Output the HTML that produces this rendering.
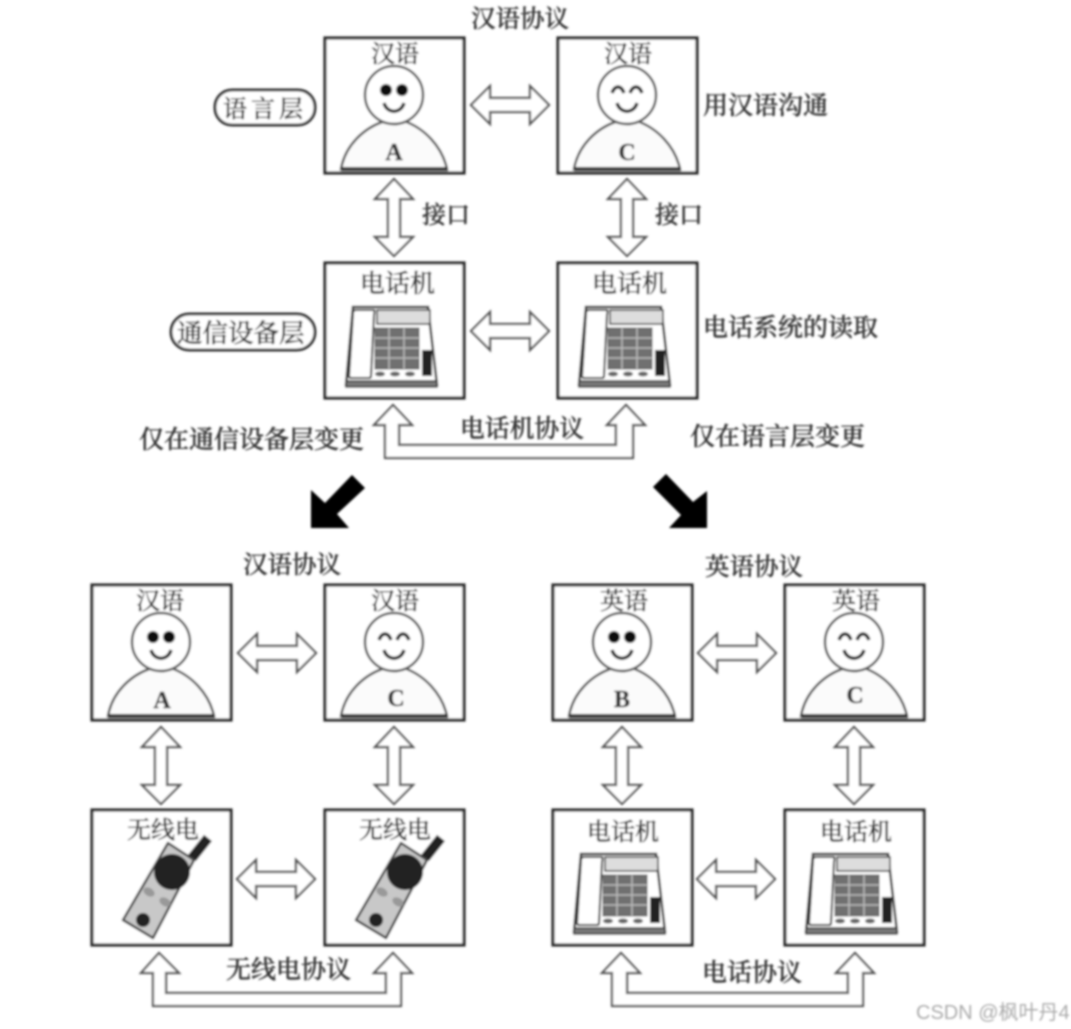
<!DOCTYPE html>
<html><head><meta charset="utf-8"><style>
html,body{margin:0;padding:0;background:#fff;width:1071px;height:1029px;overflow:hidden}
svg{display:block}
text{font-family:"Liberation Serif","Noto Serif CJK SC",serif;fill:#333;font-size:24px;font-weight:500;stroke:#444;stroke-width:.45px}
</style></head><body>
<svg width="1071" height="1029" viewBox="0 0 1071 1029" xmlns="http://www.w3.org/2000/svg">
<defs>
<filter id="b" x="-2%" y="-2%" width="104%" height="104%"><feGaussianBlur stdDeviation="1"/></filter>
<symbol id="box" overflow="visible"><rect x="0" y="0" width="139" height="135" fill="#fff" stroke="#2a2a2a" stroke-width="3.2"/></symbol>
<g id="person" fill="#fff" stroke="#555" stroke-width="2.5">
  <path d="M16 131C20 108 38 90 60 83C66 87 74 87 79 83C99 90 117 108 122 131Z" fill="#fbfbfb"/>
  <circle cx="69" cy="57" r="29"/>
  <path d="M16 131H123" stroke="#333" stroke-width="4"/>
  <path d="M59 65C62 76 76 76 79 65" fill="none" stroke="#222" stroke-width="3.4"/>
</g>
<g id="eyes" fill="#111"><circle cx="61" cy="52" r="6"/><circle cx="77" cy="52" r="6"/></g>
<g id="smile" fill="none" stroke="#222" stroke-width="3.4"><path d="M54 55C57 47 63 47 66 55"/><path d="M72 55C75 47 81 47 84 55"/></g>
<g id="harrow"><path d="M0 19L19 0V12H59V0L78 19L59 38V26H19V38Z" fill="#fff" stroke="#555" stroke-width="2.2"/></g>
<g id="varrow"><path d="M19 0L38 20H25V58H38L19 77L0 58H13V20H0Z" fill="#fff" stroke="#555" stroke-width="2.2"/></g>
<g id="phone">
  <path d="M28 44H103L112 122H21Z" fill="#fff" stroke="#333" stroke-width="2.5"/>
  <path d="M21 118H112V124H21Z" fill="#777" stroke="#333" stroke-width="1.5"/>
  <path d="M31 47H49Q50 47 49 52L46 113Q46 115 44 115H26Q24 115 24 113L28 50Q28 47 31 47Z" fill="#fff" stroke="#333" stroke-width="2"/>
  <rect x="52" y="47" width="53" height="14" fill="#ddd" stroke="#333" stroke-width="1.5"/>
  <rect x="50" y="65" width="44" height="41" fill="#6f6f6f" stroke="#555" stroke-width="1"/>
  <path d="M64 65V106M79 65V106M50 75H94M50 85H94M50 95H94" stroke="#bbb" stroke-width="1.5"/>
  <rect x="97" y="87" width="10" height="26" fill="#222"/>
  <ellipse cx="55" cy="111" rx="5" ry="2.5" fill="#666"/><ellipse cx="70" cy="111" rx="5" ry="2.5" fill="#666"/><ellipse cx="85" cy="111" rx="5" ry="2.5" fill="#666"/>
</g>
<g id="radio">
  <path d="M100 48L116 28" stroke="#222" stroke-width="10"/>
  <path d="M76 33L102 50L61 128L31 110Z" fill="#c8c8c8" stroke="#444" stroke-width="2.5" stroke-linejoin="round"/>
  <circle cx="80" cy="62" r="18" fill="#222"/>
  <ellipse cx="57" cy="82" rx="6" ry="4" fill="#999" transform="rotate(30 57 82)"/>
  <ellipse cx="73" cy="92" rx="6" ry="4" fill="#999" transform="rotate(30 73 92)"/>
  <circle cx="51" cy="110" r="7" fill="#222"/>
</g>
</defs>
<rect width="1071" height="1029" fill="#fff"/>
<g filter="url(#b)">
<use href="#box" x="325" y="38"/><use href="#box" x="558" y="38"/>
<use href="#box" x="325" y="263"/><use href="#box" x="558" y="263"/>
<use href="#box" x="92" y="585"/><use href="#box" x="325" y="585"/>
<use href="#box" x="553" y="585"/><use href="#box" x="785" y="585"/>
<use href="#box" x="92" y="810"/><use href="#box" x="325" y="810"/>
<use href="#box" x="553" y="810"/><use href="#box" x="785" y="810"/>
<g transform="translate(325 38)"><use href="#person"/><use href="#eyes"/></g>
<g transform="translate(558 38)"><use href="#person"/><use href="#smile"/></g>
<g transform="translate(92 585)"><use href="#person"/><use href="#eyes"/></g>
<g transform="translate(325 585)"><use href="#person"/><use href="#smile"/></g>
<g transform="translate(553 585)"><use href="#person"/><use href="#eyes"/></g>
<g transform="translate(785 585)"><use href="#person"/><use href="#smile"/></g>
<use href="#phone" x="325" y="263"/><use href="#phone" x="558" y="263"/>
<use href="#phone" x="553" y="810"/><use href="#phone" x="785" y="810"/>
<use href="#radio" x="92" y="810"/><use href="#radio" x="325" y="810"/>
<use href="#harrow" x="471" y="86"/><use href="#harrow" x="471" y="312"/>
<use href="#harrow" x="238" y="634"/><use href="#harrow" x="698" y="634"/>
<use href="#harrow" x="237" y="860"/><use href="#harrow" x="697" y="860"/>
<use href="#varrow" x="375" y="179"/><use href="#varrow" x="608" y="179"/>
<use href="#varrow" x="142" y="727"/><use href="#varrow" x="375" y="727"/>
<use href="#varrow" x="603" y="727"/><use href="#varrow" x="835" y="727"/>
<g fill="#fff" stroke="#555" stroke-width="2.2">
<path d="M393 405L412 425H399V445H616V425H607L626 405L645 425H633V458H385V425H374Z"/>
<path d="M159 953L179 973H166V993H386V973H374L393 953L412 973H401V1006H153V973H141Z"/>
<path d="M621 953L640 973H627V993H848V973H836L855 953L874 973H863V1006H612V973H602Z"/>
</g>
<path d="M311 528V490L325 503L352 475L365 488L337 514L349 528Z" fill="#000"/>
<path d="M707 528V491L693 502L666 474L653 487L681 515L669 528Z" fill="#000"/>
<rect x="215" y="90" width="100" height="35" rx="17" fill="#fff" stroke="#333" stroke-width="3"/>
<rect x="171" y="314" width="144" height="36" rx="18" fill="#fff" stroke="#333" stroke-width="3"/>
<text x="471" y="27" style="font-size:24.5px">汉语协议</text>
<text x="371" y="62">汉语</text><text x="604" y="62">汉语</text>
<text x="223" y="117" style="letter-spacing:4px">语言层</text>
<text x="703" y="114" style="font-size:25px">用汉语沟通</text>
<text x="422" y="223">接口</text><text x="655" y="223">接口</text>
<text x="360" y="292" style="font-size:25px">电话机</text><text x="592" y="292" style="font-size:25px">电话机</text>
<text x="177" y="342" style="font-size:25.5px">通信设备层</text>
<text x="703" y="336" style="font-size:25px">电话系统的读取</text>
<text x="139" y="448" style="font-size:25px">仅在通信设备层变更</text>
<text x="460" y="437" style="font-size:24.8px">电话机协议</text>
<text x="690" y="445" style="font-size:25px">仅在语言层变更</text>
<text x="243" y="573" style="font-size:24.5px">汉语协议</text><text x="705" y="575" style="font-size:24.5px">英语协议</text>
<text x="136" y="609">汉语</text><text x="371" y="609">汉语</text>
<text x="600" y="609">英语</text><text x="832" y="609">英语</text>
<text x="127" y="838">无线电</text><text x="359" y="838">无线电</text>
<text x="587" y="840">电话机</text><text x="820" y="840">电话机</text>
<text x="226" y="978" style="font-size:25px">无线电协议</text>
<text x="702" y="981" style="font-size:25px">电话协议</text>
<g text-anchor="middle">
<text x="394" y="160" style="font-size:24px;font-weight:700">A</text>
<text x="627" y="160" style="font-size:24px;font-weight:700">C</text>
<text x="162" y="708" style="font-size:24px;font-weight:700">A</text>
<text x="396" y="706" style="font-size:24px;font-weight:700">C</text>
<text x="622" y="707" style="font-size:24px;font-weight:700">B</text>
<text x="855" y="703" style="font-size:24px;font-weight:700">C</text>
</g>
<text x="916" y="1019" style="font-family:'Liberation Sans','Noto Sans CJK SC',sans-serif;font-size:20px;font-weight:400;fill:#aaa;stroke:none">CSDN @枫叶丹4</text>
</g>
</svg>
</body></html>
